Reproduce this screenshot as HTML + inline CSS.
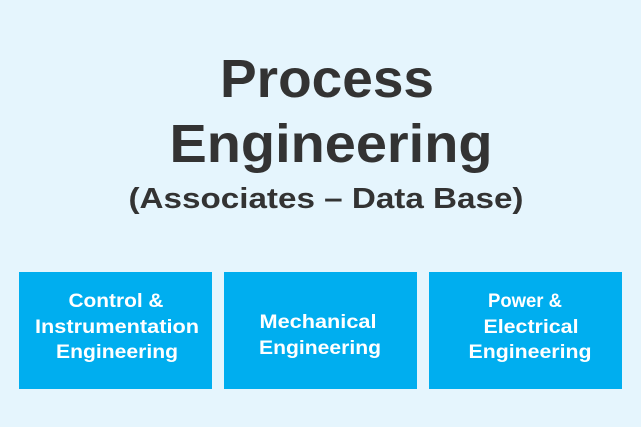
<!DOCTYPE html>
<html><head><meta charset="utf-8"><style>
html,body{margin:0;padding:0;background:#e5f5fd;}
</style></head><body>
<svg width="641" height="427" viewBox="0 0 641 427" xmlns="http://www.w3.org/2000/svg" style="display:block">
<rect width="641" height="427" fill="#e5f5fd"/>
<g font-family="Liberation Sans, sans-serif" font-weight="bold" fill="#333333" text-anchor="middle">
<text x="327" y="97" font-size="54" textLength="214" lengthAdjust="spacingAndGlyphs">Process</text>
<text x="331" y="162" font-size="54" textLength="323" lengthAdjust="spacingAndGlyphs">Engineering</text>
<text x="326" y="208" font-size="29" textLength="395" lengthAdjust="spacingAndGlyphs">(Associates – Data Base)</text>
</g>
<g fill="#00aeef">
<rect x="19" y="272" width="193" height="117"/>
<rect x="224" y="272" width="193" height="117"/>
<rect x="429" y="272" width="193" height="117"/>
</g>
<g font-family="Liberation Sans, sans-serif" font-weight="bold" fill="#ffffff" text-anchor="middle" font-size="19" lengthAdjust="spacingAndGlyphs">
<text x="116" y="307" textLength="95" lengthAdjust="spacingAndGlyphs">Control &amp;</text>
<text x="117" y="333" textLength="164" lengthAdjust="spacingAndGlyphs">Instrumentation</text>
<text x="117" y="358" textLength="122" lengthAdjust="spacingAndGlyphs">Engineering</text>
<text x="318" y="328" textLength="117" lengthAdjust="spacingAndGlyphs">Mechanical</text>
<text x="320" y="354" textLength="122" lengthAdjust="spacingAndGlyphs">Engineering</text>
<text x="525" y="307" textLength="74" lengthAdjust="spacingAndGlyphs">Power &amp;</text>
<text x="531" y="333" textLength="95" lengthAdjust="spacingAndGlyphs">Electrical</text>
<text x="530" y="358" textLength="123" lengthAdjust="spacingAndGlyphs">Engineering</text>
</g>
</svg>
</body></html>
